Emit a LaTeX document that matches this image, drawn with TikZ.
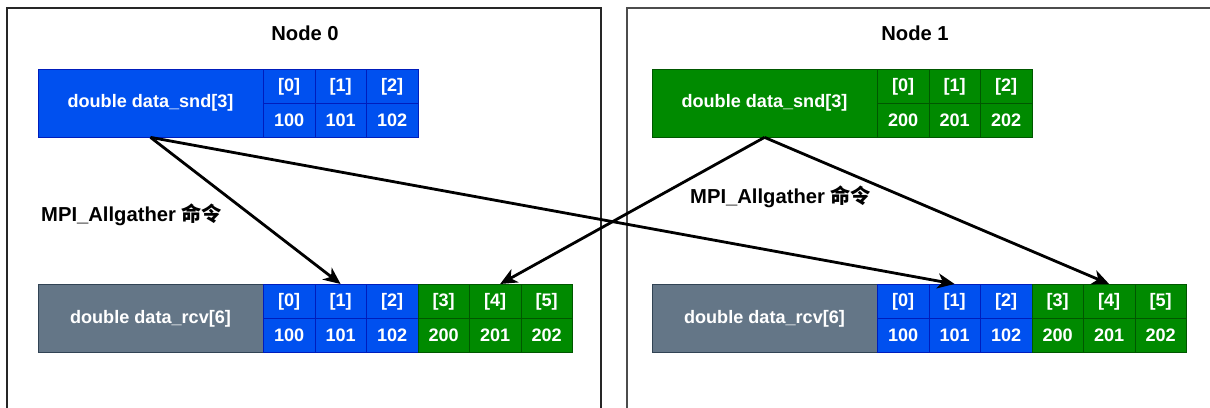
\documentclass[tikz,border=0pt]{standalone}
\usepackage{fontspec}
\setmainfont{Liberation Sans}
\newfontfamily\cjk{Noto Sans CJK SC}
\usetikzlibrary{positioning,arrows.meta}
\definecolor{blkfill}{HTML}{0050EF}
\definecolor{blkline}{HTML}{001DBC}
\definecolor{grnfill}{HTML}{008A00}
\definecolor{grnline}{HTML}{005700}
\definecolor{gryfill}{HTML}{647687}
\definecolor{gryline}{HTML}{314354}

\begin{document}
\begin{tikzpicture}[x=0.2mm,y=-0.2mm,
    every node/.style={font=\bfseries\fontsize{10.3}{12}\selectfont},
    namebox/.style={minimum width=45mm, minimum height=13.6mm, inner sep=0pt, text=white, line width=0.4pt},
    cell/.style={minimum width=10.3mm, minimum height=6.8mm, inner sep=0pt, text=white, anchor=north west, line width=0.4pt},
    blk/.style={fill=blkfill, draw=blkline},
    grn/.style={fill=grnfill, draw=grnline},
    gry/.style={fill=gryfill, draw=gryline},
    copyarrow/.style={line width=1.6pt, -{Stealth[length=3.4mm, width=3mm, inset=1mm]}}]
    \useasboundingbox (0,0) rectangle (1210,407);

    % frames of the two machines
    \draw [line width=0.8pt, black!85] (7,412) |- (601,8) -- (601,412);
    \draw [line width=0.8pt, black!70] (627,412) |- (1215,8);
    \node [font=\bfseries\fontsize{11.5}{13}\selectfont] (title0) at (305,33) {Node 0};
    \node [font=\bfseries\fontsize{11.5}{13}\selectfont] (title1) at (915,33) {Node 1};

    % send buffers
    \node [namebox, blk] (snd0) at (150.5,103) {double data\_snd[3]};
    \foreach \i/\n in {0/100,1/101,2/102} {
        \node [cell, blk] (snd0-\i) at ({263+51.5*\i},69) {[\i]};
        \node [cell, blk] (sndv0-\i) at ({263+51.5*\i},103) {\n};
    }
    \node [namebox, grn] (snd1) at (764.5,103) {double data\_snd[3]};
    \foreach \i/\n in {0/200,1/201,2/202} {
        \node [cell, grn] (snd1-\i) at ({877+51.5*\i},69) {[\i]};
        \node [cell, grn] (sndv1-\i) at ({877+51.5*\i},103) {\n};
    }

    % receive buffers
    \foreach \s/\dx in {0/0,1/614} {
        \node [namebox, gry] (rcv\s) at (150.5+\dx,318.5) {double data\_rcv[6]};
        \foreach \i/\c/\n in {0/blk/100,1/blk/101,2/blk/102,3/grn/200,4/grn/201,5/grn/202} {
            \node [cell, \c] (rcv\s-\i) at ({263+\dx+51.5*\i},284) {[\i]};
            \node [cell, \c] (rcvv\s-\i) at ({263+\dx+51.5*\i},318) {\n};
        }
    }

    % gather
    \draw [copyarrow] (snd0.south) -- (rcv0-1.north);
    \draw [copyarrow] (snd0.south) -- (rcv1-1.north);
    \draw [copyarrow] (snd1.south) -- ([xshift=1mm]rcv0-4.north);
    \draw [copyarrow] (snd1.south) -- (rcv1-4.north);

    \node [anchor=west, font=\bfseries\fontsize{11.5}{13}\selectfont] (cmd0) at (35,215) {MPI\_Allgather {\cjk 命令}};
    \node [anchor=west, font=\bfseries\fontsize{11.5}{13}\selectfont] (cmd1) at (684,197) {MPI\_Allgather {\cjk 命令}};
\end{tikzpicture}
\end{document}
